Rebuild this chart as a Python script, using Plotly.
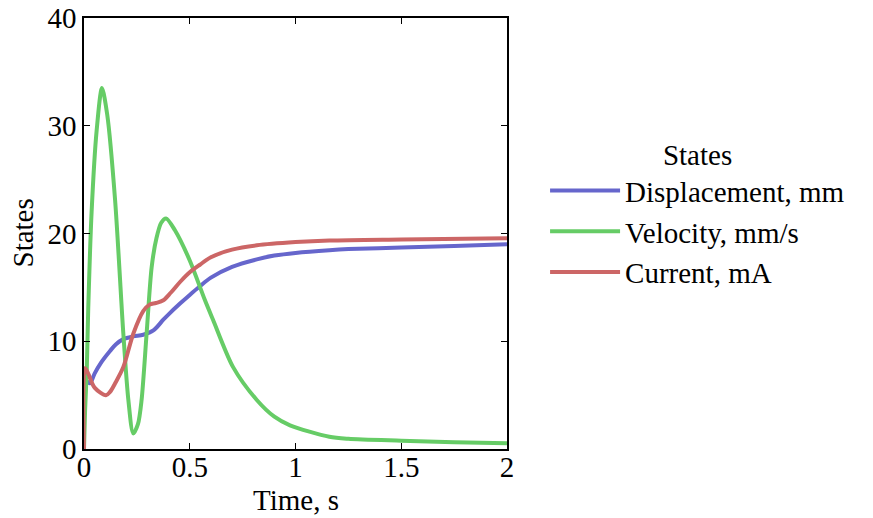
import plotly.graph_objects as go

# Time samples (s) and state values
t_disp = [0.0, 0.028, 0.05, 0.08, 0.123, 0.15, 0.186, 0.233, 0.28, 0.328, 0.375, 0.4, 0.454, 0.5, 0.548, 0.6, 0.7, 0.817, 0.9, 1.0, 1.16, 1.25, 1.5, 1.75, 2.0]
disp = [6.6, 6.1, 7.0, 8.0, 9.1, 9.7, 10.2, 10.45, 10.6, 11.0, 12.0, 12.5, 13.5, 14.3, 15.1, 15.9, 16.9, 17.6, 17.95, 18.2, 18.45, 18.55, 18.7, 18.85, 19.0]

t_vel = [0.0, 0.005, 0.013, 0.02, 0.036, 0.06, 0.085, 0.11, 0.147, 0.186, 0.21, 0.233, 0.255, 0.272, 0.296, 0.32, 0.343, 0.365, 0.388, 0.43, 0.5, 0.572, 0.61, 0.705, 0.817, 0.9, 0.974, 1.16, 1.25, 1.5, 1.75, 2.0]
vel = [0.0, 3.5, 7.3, 13.0, 22.0, 29.6, 33.5, 31.0, 23.1, 10.7, 4.5, 1.45, 2.3, 4.5, 10.7, 16.9, 19.6, 21.0, 21.4, 20.3, 17.5, 13.8, 12.0, 7.6, 4.55, 3.0, 2.2, 1.14, 0.95, 0.77, 0.62, 0.53]

t_cur = [0.0, 0.005, 0.02, 0.05, 0.104, 0.123, 0.15, 0.186, 0.233, 0.28, 0.31, 0.34, 0.375, 0.41, 0.454, 0.5, 0.548, 0.6, 0.7, 0.817, 1.0, 1.16, 1.5, 2.0]
cur = [0.0, 7.5, 7.0, 5.7, 5.0, 5.3, 6.2, 7.6, 10.7, 12.8, 13.4, 13.55, 13.8, 14.5, 15.5, 16.4, 17.1, 17.8, 18.5, 18.9, 19.2, 19.35, 19.45, 19.55]

x_ticks = [0, 0.5, 1, 1.5, 2]
x_tick_labels = ["0", "0.5", "1", "1.5", "2"]
y_ticks = [0, 10, 20, 30, 40]

FONT = "Liberation Serif"
FS = 29

fig = go.Figure()
fig.add_trace(go.Scatter(x=t_disp, y=disp, mode="lines", name="Displacement, mm",
                         line=dict(color="#6666CC", width=4, shape="spline", smoothing=0.9)))
fig.add_trace(go.Scatter(x=t_vel, y=vel, mode="lines", name="Velocity, mm/s",
                         line=dict(color="#66CC66", width=4, shape="spline", smoothing=0.8)))
fig.add_trace(go.Scatter(x=t_cur, y=cur, mode="lines", name="Current, mA",
                         line=dict(color="#CC6666", width=4, shape="spline", smoothing=0.9)))

axis_common = dict(showline=True, linecolor="black", linewidth=1.5, mirror="allticks",
                   ticks="inside", ticklen=6, tickwidth=1, tickcolor="black",
                   showgrid=False, zeroline=False, automargin=False,
                   ticklabeloverflow="allow",
                   tickfont=dict(family=FONT, size=FS, color="black"))

fig.update_xaxes(range=[0, 2], tickvals=x_ticks, ticktext=x_tick_labels,
                 ticklabelstandoff=-9, **axis_common)
fig.update_yaxes(range=[0, 40], tickvals=y_ticks, **axis_common)

fig.add_annotation(text="Time, s", xref="paper", yref="paper", x=0.5, y=0,
                   xanchor="center", yanchor="middle", yshift=-51, showarrow=False,
                   font=dict(family=FONT, size=FS, color="black"))
fig.add_annotation(text="States", xref="paper", yref="paper", x=0, y=0.5,
                   xanchor="center", yanchor="middle", xshift=-62, textangle=-90,
                   showarrow=False, font=dict(family=FONT, size=FS, color="black"))

fig.update_layout(
    width=873, height=518,
    margin=dict(l=84, r=366, t=18, b=69),
    paper_bgcolor="white", plot_bgcolor="white",
    font=dict(family=FONT, size=FS, color="black"),
    legend=dict(x=1.09, xanchor="left", y=0.746, yanchor="top", itemwidth=70,
                title=dict(text="States", side="top center", font=dict(family=FONT, size=FS)),
                font=dict(family=FONT, size=FS), tracegroupgap=0,
                bgcolor="rgba(0,0,0,0)"),
    showlegend=True,
)

fig.write_html("out.html", config={"displayModeBar": False},
               post_script="document.body.style.margin='0';")
